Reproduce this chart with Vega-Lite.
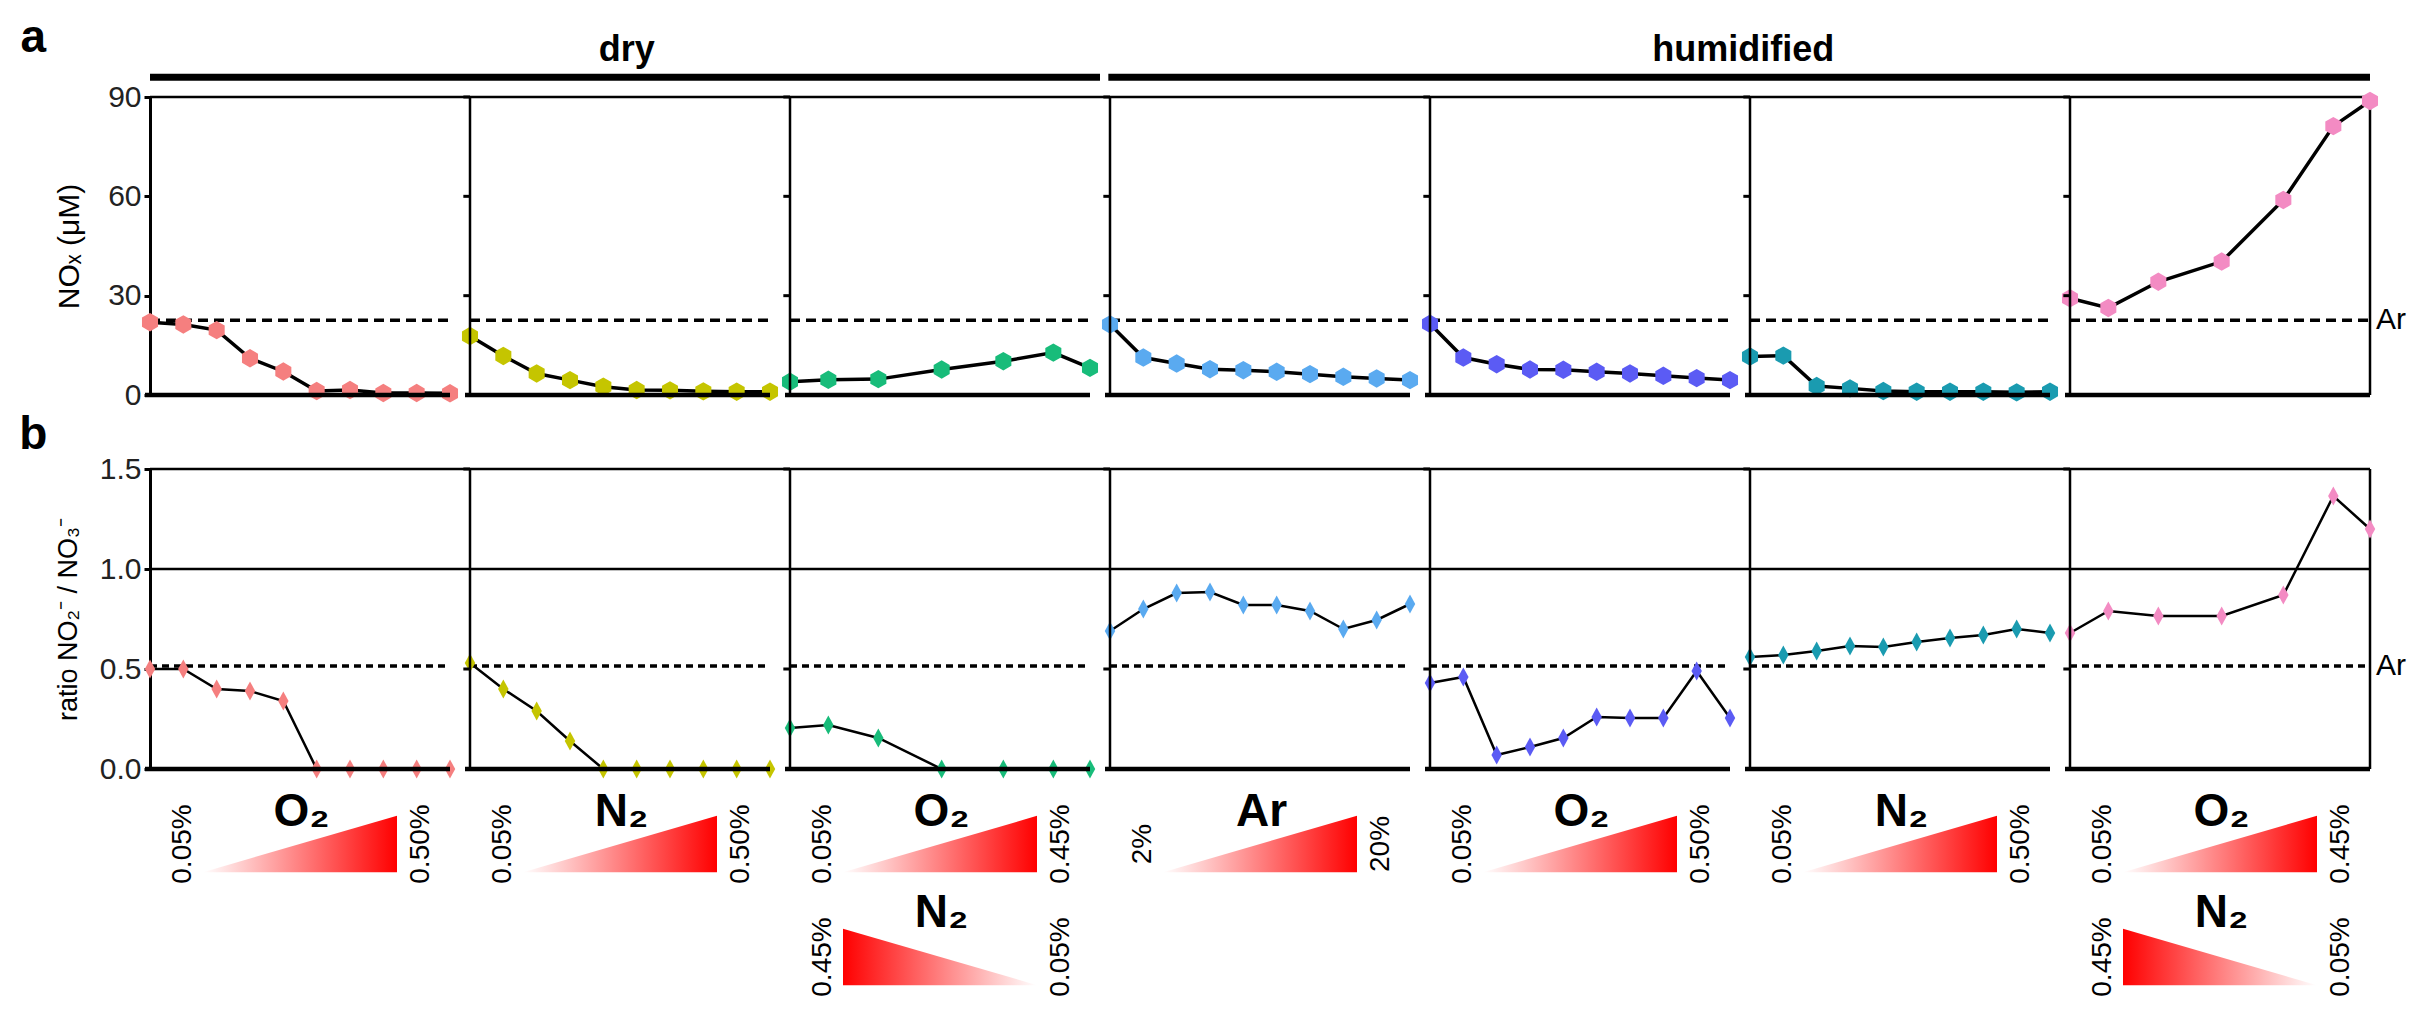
{
    "$schema": "https://vega.github.io/schema/vega-lite/v6.json",
    "background": "white",
    "padding": {"left": 19, "top": 15, "right": 5, "bottom": 0},
    "spacing": 2,
    "config": {
        "view": {"stroke": null},
        "font": "Liberation Sans",
        "axisX": {"disable": true}
    },
    "datasets": {
        "rows": [
            {"panel": 0, "step": 0, "nox": 22.0, "ratio": 0.50},
            {"panel": 0, "step": 1, "nox": 21.3, "ratio": 0.50},
            {"panel": 0, "step": 2, "nox": 19.6, "ratio": 0.40},
            {"panel": 0, "step": 3, "nox": 11.1, "ratio": 0.39},
            {"panel": 0, "step": 4, "nox": 7.1, "ratio": 0.34},
            {"panel": 0, "step": 5, "nox": 1.2, "ratio": 0},
            {"panel": 0, "step": 6, "nox": 1.5, "ratio": 0},
            {"panel": 0, "step": 7, "nox": 0.6, "ratio": 0},
            {"panel": 0, "step": 8, "nox": 0.6, "ratio": 0},
            {"panel": 0, "step": 9, "nox": 0.5, "ratio": 0},
            {"panel": 1, "step": 0, "nox": 17.8, "ratio": 0.53},
            {"panel": 1, "step": 1, "nox": 11.8, "ratio": 0.40},
            {"panel": 1, "step": 2, "nox": 6.5, "ratio": 0.29},
            {"panel": 1, "step": 3, "nox": 4.5, "ratio": 0.14},
            {"panel": 1, "step": 4, "nox": 2.5, "ratio": 0},
            {"panel": 1, "step": 5, "nox": 1.5, "ratio": 0},
            {"panel": 1, "step": 6, "nox": 1.4, "ratio": 0},
            {"panel": 1, "step": 7, "nox": 1.1, "ratio": 0},
            {"panel": 1, "step": 8, "nox": 1.0, "ratio": 0},
            {"panel": 1, "step": 9, "nox": 1.0, "ratio": 0},
            {"panel": 2, "step": 0, "nox": 4.0, "ratio": 0.205},
            {"panel": 2, "step": 1.15, "nox": 4.6, "ratio": 0.22},
            {"panel": 2, "step": 2.65, "nox": 4.8, "ratio": 0.155},
            {"panel": 2, "step": 4.55, "nox": 7.7, "ratio": 0},
            {"panel": 2, "step": 6.4, "nox": 10.2, "ratio": 0},
            {"panel": 2, "step": 7.9, "nox": 12.8, "ratio": 0},
            {"panel": 2, "step": 9, "nox": 8.2, "ratio": 0},
            {"panel": 3, "step": 0, "nox": 21.3, "ratio": 0.69},
            {"panel": 3, "step": 1, "nox": 11.3, "ratio": 0.80},
            {"panel": 3, "step": 2, "nox": 9.5, "ratio": 0.88},
            {"panel": 3, "step": 3, "nox": 7.8, "ratio": 0.885},
            {"panel": 3, "step": 4, "nox": 7.5, "ratio": 0.82},
            {"panel": 3, "step": 5, "nox": 7.0, "ratio": 0.82},
            {"panel": 3, "step": 6, "nox": 6.3, "ratio": 0.79},
            {"panel": 3, "step": 7, "nox": 5.5, "ratio": 0.70},
            {"panel": 3, "step": 8, "nox": 5.0, "ratio": 0.745},
            {"panel": 3, "step": 9, "nox": 4.5, "ratio": 0.825},
            {"panel": 4, "step": 0, "nox": 21.5, "ratio": 0.43},
            {"panel": 4, "step": 1, "nox": 11.3, "ratio": 0.46},
            {"panel": 4, "step": 2, "nox": 9.3, "ratio": 0.07},
            {"panel": 4, "step": 3, "nox": 7.7, "ratio": 0.11},
            {"panel": 4, "step": 4, "nox": 7.6, "ratio": 0.155},
            {"panel": 4, "step": 5, "nox": 7.0, "ratio": 0.26},
            {"panel": 4, "step": 6, "nox": 6.5, "ratio": 0.255},
            {"panel": 4, "step": 7, "nox": 5.8, "ratio": 0.255},
            {"panel": 4, "step": 8, "nox": 5.1, "ratio": 0.49},
            {"panel": 4, "step": 9, "nox": 4.5, "ratio": 0.255},
            {"panel": 5, "step": 0, "nox": 11.6, "ratio": 0.56},
            {"panel": 5, "step": 1, "nox": 11.9, "ratio": 0.57},
            {"panel": 5, "step": 2, "nox": 2.7, "ratio": 0.59},
            {"panel": 5, "step": 3, "nox": 2.0, "ratio": 0.615},
            {"panel": 5, "step": 4, "nox": 1.2, "ratio": 0.61},
            {"panel": 5, "step": 5, "nox": 1.0, "ratio": 0.635},
            {"panel": 5, "step": 6, "nox": 1.0, "ratio": 0.655},
            {"panel": 5, "step": 7, "nox": 1.0, "ratio": 0.67},
            {"panel": 5, "step": 8, "nox": 0.8, "ratio": 0.70},
            {"panel": 5, "step": 9, "nox": 1.0, "ratio": 0.68},
            {"panel": 6, "step": 0, "nox": 29.2, "ratio": 0.68},
            {"panel": 6, "step": 1.15, "nox": 26.3, "ratio": 0.79},
            {"panel": 6, "step": 2.65, "nox": 34.2, "ratio": 0.765},
            {"panel": 6, "step": 4.55, "nox": 40.3, "ratio": 0.765},
            {"panel": 6, "step": 6.4, "nox": 58.9, "ratio": 0.87},
            {"panel": 6, "step": 7.9, "nox": 81.2, "ratio": 1.365},
            {"panel": 6, "step": 9, "nox": 88.8, "ratio": 1.20},
            {"panel": 0, "tier": 1, "dir": "up", "gas": "O₂", "lo": "0.05%", "hi": "0.50%"},
            {"panel": 1, "tier": 1, "dir": "up", "gas": "N₂", "lo": "0.05%", "hi": "0.50%"},
            {"panel": 2, "tier": 1, "dir": "up", "gas": "O₂", "lo": "0.05%", "hi": "0.45%"},
            {"panel": 2, "tier": 2, "dir": "down", "gas": "N₂", "lo": "0.45%", "hi": "0.05%"},
            {"panel": 3, "tier": 1, "dir": "up", "gas": "Ar", "lo": "2%", "hi": "20%"},
            {"panel": 4, "tier": 1, "dir": "up", "gas": "O₂", "lo": "0.05%", "hi": "0.50%"},
            {"panel": 5, "tier": 1, "dir": "up", "gas": "N₂", "lo": "0.05%", "hi": "0.50%"},
            {"panel": 6, "tier": 1, "dir": "up", "gas": "O₂", "lo": "0.05%", "hi": "0.45%"},
            {"panel": 6, "tier": 2, "dir": "down", "gas": "N₂", "lo": "0.45%", "hi": "0.05%"}
        ]
    },
    "vconcat": [
        {
            "data": {"name": "rows"},
            "facet": {"column": {"field": "panel", "type": "ordinal", "header": null}},
            "spacing": 0,
            "bounds": "flush",
            "spec": {
                "width": 320,
                "height": 298,
                "layer": [
                    {
                        "transform": [{"filter": "datum.step == 0"}],
                        "mark": {"type": "rule", "color": "black", "strokeWidth": 3.5, "strokeDash": [10, 6]},
                        "encoding": {"x": {"datum": 0}, "x2": {"datum": 9}, "y": {"datum": 22.6}}
                    },
                    {
                        "transform": [{"filter": "isValid(datum.nox)"}],
                        "mark": {"type": "line", "color": "black", "strokeWidth": 3.5},
                        "encoding": {
                            "x": {"field": "step", "type": "quantitative",
                                  "scale": {"domain": [0, 9.6], "nice": false, "zero": false}, "axis": null},
                            "y": {"field": "nox", "type": "quantitative",
                                  "scale": {"domain": [0, 90], "nice": false},
                                  "axis": {"values": [0, 30, 60, 90], "title": "NOₓ (μM)", "grid": false,
                                           "domainColor": "black", "domainWidth": 3,
                                           "tickColor": "black", "tickWidth": 3, "tickSize": 6,
                                           "labelFont": "Liberation Sans Narrow, Liberation Sans, sans-serif",
                                           "labelFontSize": 30, "labelColor": "#222", "labelPadding": 3,
                                           "titleFont": "Liberation Sans", "titleFontSize": 30,
                                           "titleFontWeight": "normal", "titleColor": "black",
                                           "titlePadding": 20, "minExtent": 46, "maxExtent": 46}}
                        }
                    },
                    {
                        "transform": [{"filter": "isValid(datum.nox)"}],
                        "mark": {"type": "point", "shape": "M0,-1L0.87,-0.5L0.87,0.5L0,1L-0.87,0.5L-0.87,-0.5Z",
                                 "size": 340, "filled": true, "opacity": 1, "strokeWidth": 0},
                        "encoding": {
                            "x": {"field": "step", "type": "quantitative"},
                            "y": {"field": "nox", "type": "quantitative"},
                            "color": {"field": "panel", "type": "nominal", "legend": null,
                                      "scale": {"domain": [0, 1, 2, 3, 4, 5, 6],
                                                "range": ["#F57F7F", "#C5C500", "#18BC7A", "#5AAAF0", "#5B5BF4", "#1A9BB0", "#F38BC3"]}}
                        }
                    },
                    {
                        "transform": [{"filter": "datum.step == 0 && datum.panel > 0"}],
                        "mark": {"type": "rule", "color": "black", "strokeWidth": 2.5},
                        "encoding": {"x": {"datum": 0}, "y": {"datum": 0}, "y2": {"datum": 90}}
                    },
                    {
                        "transform": [{"filter": "datum.step == 0 && datum.panel > 0"}],
                        "mark": {"type": "rule", "color": "black", "strokeWidth": 3},
                        "encoding": {"x": {"datum": -0.2}, "x2": {"datum": 0}, "y": {"datum": 30}}
                    },
                    {
                        "transform": [{"filter": "datum.step == 0 && datum.panel > 0"}],
                        "mark": {"type": "rule", "color": "black", "strokeWidth": 3},
                        "encoding": {"x": {"datum": -0.2}, "x2": {"datum": 0}, "y": {"datum": 60}}
                    },
                    {
                        "transform": [{"filter": "datum.step == 0 && datum.panel > 0"}],
                        "mark": {"type": "rule", "color": "black", "strokeWidth": 3},
                        "encoding": {"x": {"datum": -0.2}, "x2": {"datum": 0}, "y": {"datum": 90}}
                    },
                    {
                        "transform": [{"filter": "datum.step == 0"}],
                        "mark": {"type": "rule", "color": "black", "strokeWidth": 4.5},
                        "encoding": {"x": {"datum": -0.15}, "x2": {"datum": 9}, "y": {"datum": 0}}
                    },
                    {
                        "transform": [{"filter": "datum.step == 0 && datum.panel == 0"}],
                        "mark": {"type": "rule", "color": "black", "strokeWidth": 2.5},
                        "encoding": {"x": {"datum": 0}, "x2": {"datum": 66.6}, "y": {"datum": 90}}
                    },
                    {
                        "transform": [{"filter": "datum.step == 0 && datum.panel == 0"}],
                        "mark": {"type": "rule", "color": "black", "strokeWidth": 2.5},
                        "encoding": {"x": {"datum": 66.6}, "y": {"datum": 0}, "y2": {"datum": 90}}
                    },
                    {
                        "transform": [{"filter": "datum.step == 0 && datum.panel == 0"}],
                        "mark": {"type": "rule", "color": "black", "strokeWidth": 7},
                        "encoding": {"x": {"datum": 0}, "x2": {"datum": 28.5}, "y": {"datum": 96}}
                    },
                    {
                        "transform": [{"filter": "datum.step == 0 && datum.panel == 0"}],
                        "mark": {"type": "rule", "color": "black", "strokeWidth": 7},
                        "encoding": {"x": {"datum": 28.75}, "x2": {"datum": 66.6}, "y": {"datum": 96}}
                    },
                    {
                        "transform": [{"filter": "datum.step == 0 && datum.panel == 0"}],
                        "mark": {"type": "text", "text": "dry", "fontSize": 36, "fontWeight": "bold",
                                 "align": "center", "baseline": "middle"},
                        "encoding": {"x": {"datum": 14.3}, "y": {"datum": 104.2}}
                    },
                    {
                        "transform": [{"filter": "datum.step == 0 && datum.panel == 0"}],
                        "mark": {"type": "text", "text": "humidified", "fontSize": 36, "fontWeight": "bold",
                                 "align": "center", "baseline": "middle"},
                        "encoding": {"x": {"datum": 47.8}, "y": {"datum": 104.2}}
                    },
                    {
                        "transform": [{"filter": "datum.step == 0 && datum.panel == 0"}],
                        "mark": {"type": "text", "text": "a", "fontSize": 46, "fontWeight": "bold",
                                 "align": "center", "baseline": "middle"},
                        "encoding": {"x": {"datum": -3.5}, "y": {"datum": 107.8}}
                    },
                    {
                        "transform": [{"filter": "datum.step == 0 && datum.panel == 0"}],
                        "mark": {"type": "text", "text": "Ar", "fontSize": 30, "dx": 6,
                                 "font": "Liberation Sans Narrow, Liberation Sans, sans-serif",
                                 "align": "left", "baseline": "middle"},
                        "encoding": {"x": {"datum": 66.6}, "y": {"datum": 22.6}}
                    }
                ]
            }
        },
        {
            "data": {"name": "rows"},
            "facet": {"column": {"field": "panel", "type": "ordinal", "header": null}},
            "spacing": 0,
            "bounds": "flush",
            "spec": {
                "width": 320,
                "height": 300,
                "layer": [
                    {
                        "transform": [{"filter": "datum.step == 0"}],
                        "mark": {"type": "rule", "color": "black", "strokeWidth": 3.5, "strokeDash": [7, 5]},
                        "encoding": {"x": {"datum": 0}, "x2": {"datum": 9}, "y": {"datum": 0.515}}
                    },
                    {
                        "transform": [{"filter": "isValid(datum.ratio)"}],
                        "mark": {"type": "line", "color": "black", "strokeWidth": 2.5},
                        "encoding": {
                            "x": {"field": "step", "type": "quantitative",
                                  "scale": {"domain": [0, 9.6], "nice": false, "zero": false}, "axis": null},
                            "y": {"field": "ratio", "type": "quantitative",
                                  "scale": {"domain": [0, 1.5], "nice": false},
                                  "axis": {"values": [0, 0.5, 1, 1.5], "format": ".1f",
                                           "title": "ratio NO₂⁻ / NO₃⁻", "grid": false,
                                           "domainColor": "black", "domainWidth": 3,
                                           "tickColor": "black", "tickWidth": 3, "tickSize": 6,
                                           "labelFont": "Liberation Sans Narrow, Liberation Sans, sans-serif",
                                           "labelFontSize": 30, "labelColor": "#222", "labelPadding": 3,
                                           "titleFont": "Liberation Sans", "titleFontSize": 27,
                                           "titleFontWeight": "normal", "titleColor": "black",
                                           "titlePadding": 22, "minExtent": 46, "maxExtent": 46}}
                        }
                    },
                    {
                        "transform": [{"filter": "isValid(datum.ratio)"}],
                        "mark": {"type": "point", "shape": "M0,-1L0.55,0L0,1L-0.55,0Z",
                                 "size": 361, "filled": true, "opacity": 1, "strokeWidth": 0},
                        "encoding": {
                            "x": {"field": "step", "type": "quantitative"},
                            "y": {"field": "ratio", "type": "quantitative"},
                            "color": {"field": "panel", "type": "nominal", "legend": null,
                                      "scale": {"domain": [0, 1, 2, 3, 4, 5, 6],
                                                "range": ["#F57F7F", "#C5C500", "#18BC7A", "#5AAAF0", "#5B5BF4", "#1A9BB0", "#F38BC3"]}}
                        }
                    },
                    {
                        "transform": [{"filter": "datum.step == 0 && datum.panel > 0"}],
                        "mark": {"type": "rule", "color": "black", "strokeWidth": 2.5},
                        "encoding": {"x": {"datum": 0}, "y": {"datum": 0}, "y2": {"datum": 1.5}}
                    },
                    {
                        "transform": [{"filter": "datum.step == 0 && datum.panel > 0"}],
                        "mark": {"type": "rule", "color": "black", "strokeWidth": 3},
                        "encoding": {"x": {"datum": -0.2}, "x2": {"datum": 0}, "y": {"datum": 0.5}}
                    },
                    {
                        "transform": [{"filter": "datum.step == 0 && datum.panel > 0"}],
                        "mark": {"type": "rule", "color": "black", "strokeWidth": 3},
                        "encoding": {"x": {"datum": -0.2}, "x2": {"datum": 0}, "y": {"datum": 1.5}}
                    },
                    {
                        "transform": [{"filter": "datum.step == 0"}],
                        "mark": {"type": "rule", "color": "black", "strokeWidth": 4.5},
                        "encoding": {"x": {"datum": -0.15}, "x2": {"datum": 9}, "y": {"datum": 0}}
                    },
                    {
                        "transform": [{"filter": "datum.step == 0 && datum.panel == 0"}],
                        "mark": {"type": "rule", "color": "black", "strokeWidth": 2.5},
                        "encoding": {"x": {"datum": 0}, "x2": {"datum": 66.6}, "y": {"datum": 1.5}}
                    },
                    {
                        "transform": [{"filter": "datum.step == 0 && datum.panel == 0"}],
                        "mark": {"type": "rule", "color": "black", "strokeWidth": 2.5},
                        "encoding": {"x": {"datum": 0}, "x2": {"datum": 66.6}, "y": {"datum": 1}}
                    },
                    {
                        "transform": [{"filter": "datum.step == 0 && datum.panel == 0"}],
                        "mark": {"type": "rule", "color": "black", "strokeWidth": 2.5},
                        "encoding": {"x": {"datum": 66.6}, "y": {"datum": 0}, "y2": {"datum": 1.5}}
                    },
                    {
                        "transform": [{"filter": "datum.step == 0 && datum.panel == 0"}],
                        "mark": {"type": "text", "text": "b", "fontSize": 46, "fontWeight": "bold",
                                 "align": "center", "baseline": "middle"},
                        "encoding": {"x": {"datum": -3.5}, "y": {"datum": 1.67}}
                    },
                    {
                        "transform": [{"filter": "datum.step == 0 && datum.panel == 0"}],
                        "mark": {"type": "text", "text": "Ar", "fontSize": 30, "dx": 6,
                                 "font": "Liberation Sans Narrow, Liberation Sans, sans-serif",
                                 "align": "left", "baseline": "middle"},
                        "encoding": {"x": {"datum": 66.6}, "y": {"datum": 0.515}}
                    },
                    {
                        "transform": [{"filter": "datum.dir == 'up'"}],
                        "mark": {"type": "point", "shape": "M-1,0.29L1,0.29L1,-0.29Z", "size": 37636,
                                 "filled": true, "opacity": 1, "strokeWidth": 0,
                                 "fill": {"gradient": "linear", "x1": 0, "y1": 0, "x2": 1, "y2": 0,
                                          "stops": [{"offset": 0, "color": "#ffffff"}, {"offset": 1, "color": "#ff0000"}]}},
                        "encoding": {"x": {"datum": 4.5}, "y": {"datum": -0.375}}
                    },
                    {
                        "transform": [{"filter": "datum.dir == 'down'"}],
                        "mark": {"type": "point", "shape": "M-1,-0.29L-1,0.29L1,0.29Z", "size": 37636,
                                 "filled": true, "opacity": 1, "strokeWidth": 0,
                                 "fill": {"gradient": "linear", "x1": 0, "y1": 0, "x2": 1, "y2": 0,
                                          "stops": [{"offset": 0, "color": "#ff0000"}, {"offset": 1, "color": "#ffffff"}]}},
                        "encoding": {"x": {"datum": 4.5}, "y": {"datum": -0.94}}
                    },
                    {
                        "transform": [{"filter": "datum.tier == 1"}],
                        "mark": {"type": "text", "angle": 270, "align": "center", "baseline": "middle", "fontSize": 28},
                        "encoding": {"x": {"datum": 1.0}, "y": {"datum": -0.375}, "text": {"field": "lo"}}
                    },
                    {
                        "transform": [{"filter": "datum.tier == 1"}],
                        "mark": {"type": "text", "angle": 270, "align": "center", "baseline": "middle", "fontSize": 28},
                        "encoding": {"x": {"datum": 8.13}, "y": {"datum": -0.375}, "text": {"field": "hi"}}
                    },
                    {
                        "transform": [{"filter": "datum.tier == 2"}],
                        "mark": {"type": "text", "angle": 270, "align": "center", "baseline": "middle", "fontSize": 28},
                        "encoding": {"x": {"datum": 1.0}, "y": {"datum": -0.94}, "text": {"field": "lo"}}
                    },
                    {
                        "transform": [{"filter": "datum.tier == 2"}],
                        "mark": {"type": "text", "angle": 270, "align": "center", "baseline": "middle", "fontSize": 28},
                        "encoding": {"x": {"datum": 8.13}, "y": {"datum": -0.94}, "text": {"field": "hi"}}
                    },
                    {
                        "transform": [{"filter": "datum.tier == 1"}],
                        "mark": {"type": "text", "align": "center", "baseline": "middle", "fontSize": 46,
                                 "fontWeight": "bold", "font": "Liberation Sans Narrow, Liberation Sans, sans-serif"},
                        "encoding": {"x": {"datum": 4.55}, "y": {"datum": -0.215}, "text": {"field": "gas"}}
                    },
                    {
                        "transform": [{"filter": "datum.tier == 2"}],
                        "mark": {"type": "text", "align": "center", "baseline": "middle", "fontSize": 46,
                                 "fontWeight": "bold", "font": "Liberation Sans Narrow, Liberation Sans, sans-serif"},
                        "encoding": {"x": {"datum": 4.55}, "y": {"datum": -0.72}, "text": {"field": "gas"}}
                    }
                ]
            }
        }
    ]
}
